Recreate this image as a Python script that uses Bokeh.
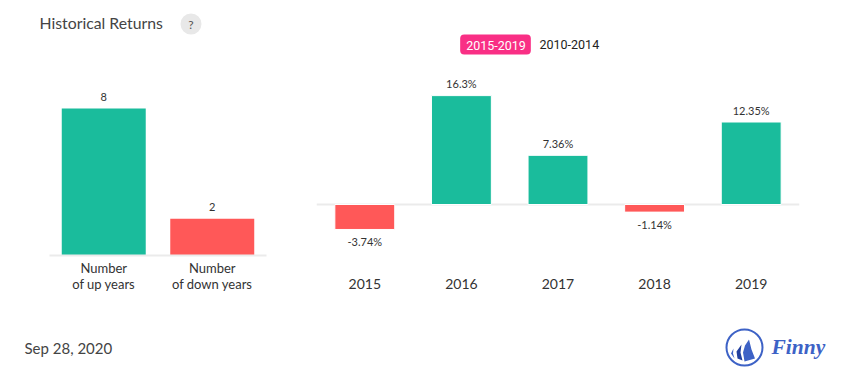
from bokeh.plotting import figure
from bokeh.models import Range1d, FactorRange, Span, Label, ColumnDataSource
from bokeh.layouts import column, row
from bokeh.core.properties import value
from bokeh.embed import file_html
from bokeh.resources import INLINE

count_labels = ["Number\nof up years", "Number\nof down years"]
count_values = [8, 2]
years = ["2015", "2016", "2017", "2018", "2019"]
returns = [-3.74, 16.3, 7.36, -1.14, 12.35]
return_labels = ["-3.74%", "16.3%", "7.36%", "-1.14%", "12.35%"]
GREEN, RED, PINK, BLUE, DARK = "#1abc9c", "#ff5858", "#f92f85", "#3d62c6", "#333333"
BASE = "#ebebeb"
PX = 6.68


def base_fig(w, h, **kw):
    p = figure(width=w, height=h, output_backend="svg", toolbar_location=None, **kw)
    p.outline_line_color = None
    p.grid.visible = False
    p.background_fill_color = None
    p.border_fill_color = None
    return p


def pixel_fig(w, h, x0, y0):
    p = base_fig(w, h, x_range=Range1d(x0, x0 + w), y_range=Range1d(y0 + h, y0),
                 min_border=0, x_axis_location=None, y_axis_location=None)
    return p


def txt(p, x, y, s, size, color=DARK, font="Lato", align="left", style="normal"):
    p.text([x], [y], text=[s], text_font=value(font), text_font_size=size, text_color=color,
           text_align=align, text_baseline="middle", text_font_style=style)


# header
head = pixel_fig(854, 60, 1, 0)
txt(head, 40, 21.5, "Historical Returns", "15.8px", "#444444")
head.scatter([191.5], [23.5], size=21, color="#e8e8e8", line_color=None)
txt(head, 191.5, 23.5, "?", "12px", "#555555", align="center")
head.add_layout(Label(x=496, y=44, text="2015-2019", text_color="white", text_font="Roboto",
                      text_font_size="12.5px", text_align="center", text_baseline="middle",
                      background_fill_color=PINK, border_radius=4, padding=(6, 5, 6, 5)))
txt(head, 540, 44, "2010-2014", "12.5px", "#222222", font="Roboto")

# left chart
left = base_fig(299, 240, x_range=FactorRange(factors=count_labels, range_padding=0),
                y_range=Range1d(0, 195 / 18.375), min_border_left=49, min_border_right=33,
                min_border_top=0, min_border_bottom=45, y_axis_location=None)
left.title.visible = False
left.vbar(x=count_labels, top=count_values, width=0.774, bottom=0,
          color=[GREEN, RED], line_color=None)
left.text(x=count_labels, y=count_values, text=[str(v) for v in count_values],
          text_font=value("Lato"), text_font_size="11px", text_color=DARK, text_align="center",
          text_baseline="middle", y_offset=-12)
ax = left.xaxis[0]
ax.axis_line_color = BASE
ax.axis_line_width = 2
ax.major_tick_line_color = None
ax.minor_tick_line_color = None
ax.major_tick_out = 0
ax.major_label_text_font = "Lato"
ax.major_label_text_font_size = "13px"
ax.major_label_text_color = DARK
ax.major_label_text_line_height = 1.0
ax.major_label_standoff = 4

# right chart
right = base_fig(555, 240, x_range=FactorRange(factors=years, range_padding=0),
                 y_range=Range1d((204 - 255) / PX, (204 - 60) / PX), min_border_left=17,
                 min_border_right=55, min_border_top=0, min_border_bottom=45, y_axis_location=None)
right.title.visible = False
right.add_layout(Span(location=0, dimension="width", line_color=BASE, line_width=2, level="underlay"))
src = ColumnDataSource(dict(x=years, top=returns, label=return_labels,
                            color=[GREEN if v >= 0 else RED for v in returns]))
right.vbar(x="x", top="top", bottom=0, width=0.62, fill_color="color", line_color="white",
           line_width=1, source=src)
pos = ColumnDataSource(dict(x=[y for y, v in zip(years, returns) if v >= 0],
                            y=[v for v in returns if v >= 0],
                            t=[l for l, v in zip(return_labels, returns) if v >= 0]))
neg = ColumnDataSource(dict(x=[y for y, v in zip(years, returns) if v < 0],
                            y=[v for v in returns if v < 0],
                            t=[l for l, v in zip(return_labels, returns) if v < 0]))
right.text(x="x", y="y", text="t", source=pos, text_font=value("Lato"), text_font_size="11px",
           text_color=DARK, text_align="center", text_baseline="middle", y_offset=-12)
right.text(x="x", y="y", text="t", source=neg, text_font=value("Lato"), text_font_size="11px",
           text_color=DARK, text_align="center", text_baseline="middle", y_offset=12)
ax = right.xaxis[0]
ax.axis_line_color = None
ax.major_tick_line_color = None
ax.minor_tick_line_color = None
ax.major_tick_out = 0
ax.major_label_text_font = "Lato"
ax.major_label_text_font_size = "14px"
ax.major_label_text_color = DARK
ax.major_label_standoff = 23

# footer
foot = pixel_fig(854, 82, 1, 300)
txt(foot, 25, 347, "Sep 28, 2020", "15px", "#444444")
foot.scatter([745], [347], size=36, fill_color=None, line_color=BLUE, line_width=2)
foot.patch([749.5, 752, 755.5, 745, 743.5, 745.5], [339, 349, 358, 361, 352, 345], color=BLUE, line_color=None)
foot.patch([742, 737, 738, 743, 741], [344, 351, 358, 360, 352], color="#22409f", line_color=None)
foot.patch([734, 731.5, 735, 733.5], [348, 353, 358, 353], color=BLUE, line_color=None)
txt(foot, 772, 346.5, "Finny", "21.5px", BLUE, font="Liberation Serif", style="bold italic")

page = column(head, row(left, right, spacing=0), foot, spacing=0)
open("out.html", "w").write(file_html(page, INLINE))
